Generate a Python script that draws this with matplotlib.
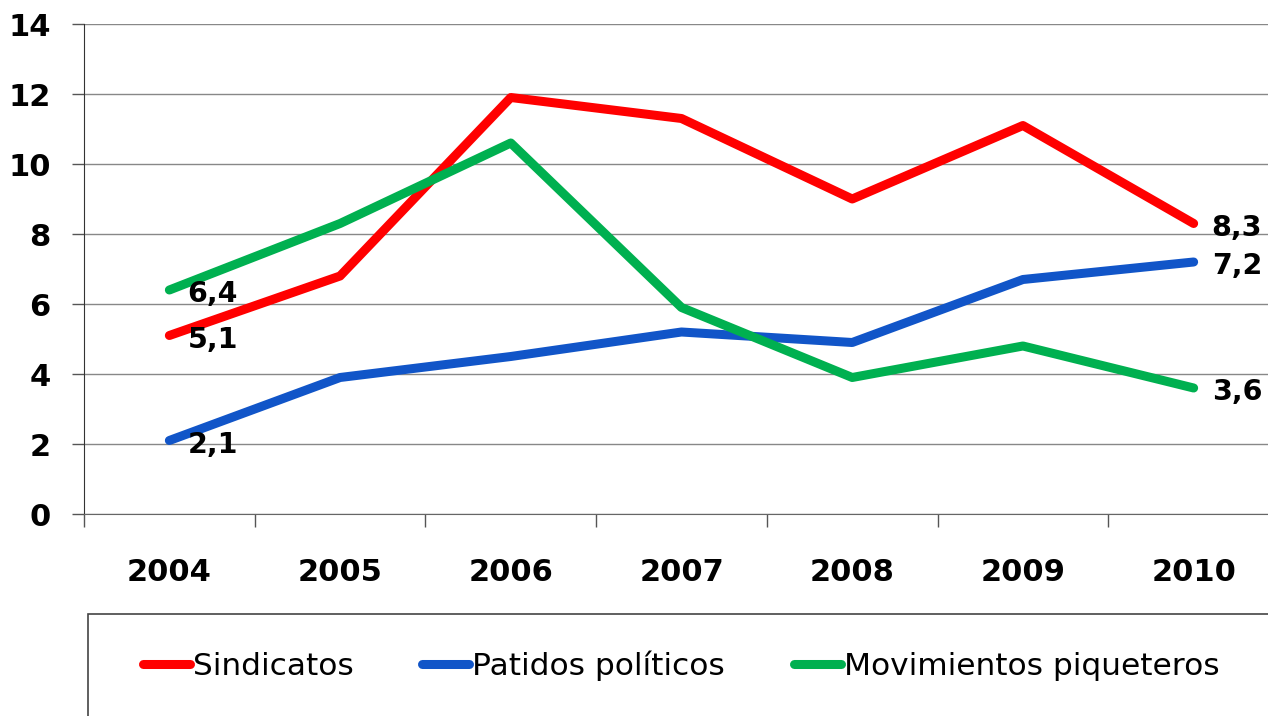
import matplotlib
matplotlib.use('Agg')
import matplotlib.pyplot as plt
from matplotlib.patches import Rectangle

plt.rcParams['font.family'] = ['DejaVu Sans']

# data
years = ['2004', '2005', '2006', '2007', '2008', '2009', '2010']
sindicatos = [5.1, 6.8, 11.9, 11.3, 9.0, 11.1, 8.3]
partidos = [2.1, 3.9, 4.5, 5.2, 4.9, 6.7, 7.2]
piqueteros = [6.4, 8.3, 10.6, 5.9, 3.9, 4.8, 3.6]
series_names = ['Sindicatos', 'Patidos políticos', 'Movimientos piqueteros']
colors = ['#FF0000', '#1155C8', '#00B050']

W, H = 1268, 716
fig = plt.figure(figsize=(W / 100, H / 100), dpi=100)
# axes runs a bit past the right edge like in the original
ax = fig.add_axes([84 / W, 1 - 514 / H, 1195 / W, 490 / H])

xs = list(range(len(years)))
lines = []
for vals, c, name in zip([sindicatos, partidos, piqueteros], colors, series_names):
    ln, = ax.plot(xs, vals, color=c, lw=6.5, solid_capstyle='round',
                  solid_joinstyle='round', label=name)
    lines.append(ln)
    # labels at first and last point
    for i in (0, len(vals) - 1):
        ax.annotate(str(vals[i]).replace('.', ','), (xs[i], vals[i]),
                    xytext=(13, -3), textcoords='offset points',
                    ha='left', va='center', fontsize=20.5, fontweight='bold')

ax.set_xlim(-0.5, len(years) - 0.5)
ax.set_ylim(0, 14)
ax.set_yticks(range(0, 15, 2))
ax.set_xticks([x - 0.5 for x in range(len(years) + 1)])
ax.set_xticklabels([])
ax.set_xticks(xs, minor=True)
ax.set_xticklabels(years, minor=True)
ax.tick_params(axis='x', which='major', direction='out', length=9, width=1, color='#555555')
ax.tick_params(axis='x', which='minor', length=0, pad=32, labelsize=22)
ax.tick_params(axis='y', direction='out', length=9, width=1, color='#555555',
               pad=15, labelsize=22)
for lab in ax.get_xticklabels(minor=True) + ax.get_yticklabels():
    lab.set_fontweight('bold')

ax.grid(axis='y', color='#888888', lw=1)
ax.set_axisbelow(True)
for s in ['top', 'right']:
    ax.spines[s].set_visible(False)
ax.spines['left'].set_color('#333333')
ax.spines['bottom'].set_color('#666666')

# legend box, cut off on the right and bottom
fig.patches.append(Rectangle((88 / W, -0.05), 1.2, 0.05 + (H - 614) / H,
                             transform=fig.transFigure, fill=False,
                             edgecolor='#444444', lw=1.2))
fig.legend(handles=lines, loc='center', bbox_to_anchor=(681 / W, 1 - 666 / H),
           ncol=3, frameon=False, handlelength=1.5,
           handletextpad=0.1, columnspacing=2.2,
           prop={'size': 22.5})

fig.savefig('out.png', dpi=100)
